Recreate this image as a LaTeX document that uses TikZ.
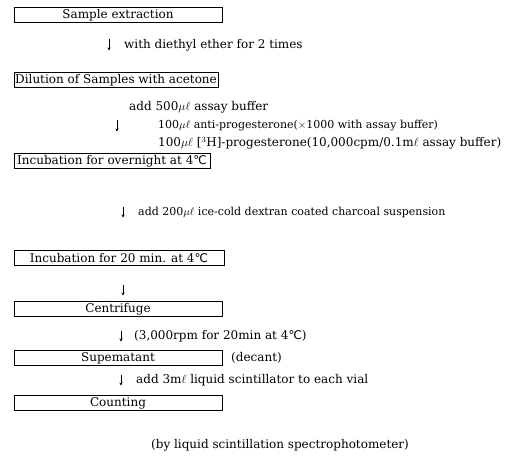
\documentclass[tikz,border=0pt]{standalone}
\usepackage{fontspec}
\setmainfont{DejaVu Serif}
\newfontfamily\symb{DejaVu Sans}
\usetikzlibrary{arrows.meta,positioning}
\newcommand{\dgc}{{\symb ℃}}
\newcommand{\ul}{$\mu\ell$}

\begin{document}
\begin{tikzpicture}[x=1pt,y=-1pt,
  every node/.style={font=\fontsize{12}{14}\selectfont,inner sep=1pt},
  stepbox/.style={draw,line width=0.6pt,minimum width=208pt,minimum height=15pt,inner sep=1pt},
  note/.style={anchor=west},
  small note/.style={note,font=\fontsize{11}{13}\selectfont},
  flow/.style={-{Stealth[length=3pt,width=3pt]},line width=0.6pt}]
\useasboundingbox (0,0) rectangle (529,465);
% boxes of the procedure
\node[stepbox] (extract) at (118,15) {Sample extraction};
\node[stepbox,minimum width=204pt] (dilute) at (116,80) {Dilution of Samples with acetone};
\node[stepbox,minimum width=196pt] (incub1) at (112,161) {Incubation for overnight at 4\dgc};
\node[stepbox,minimum width=210pt] (incub2) at (119,258) {Incubation for 20 min. at 4\dgc};
\node[stepbox] (centri) at (118,309) {Centrifuge};
\node[stepbox] (super) at (118,358) {Supematant};
\node[stepbox] (count) at (118,403) {Counting};
% notes beside the arrows
\node[note] (ether) at (123,45) {with diethyl ether for 2 times};
\node[note] (buffer) at (128,107) {add 500\ul{} assay buffer};
\node[small note] (anti) at (157,126) {100\ul{} anti-progesterone($\times$1000 with assay buffer)};
\node[note] (tracer) at (157,143) {100\ul{} [$^3$H]-progesterone(10,000cpm/0.1m$\ell$ assay buffer)};
\node[small note] (dcc) at (137,212) {add 200\ul{} ice-cold dextran coated charcoal suspension};
\node[note] (rpm) at (133,336) {(3,000rpm for 20min at 4\dgc)};
\node[note] (decant) at (230,358) {(decant)};
\node[note] (scint) at (135,380) {add 3m$\ell$ liquid scintillator to each vial};
\node (spectro) at (280,445) {(by liquid scintillation spectrophotometer)};
% short arrows
\coordinate (a1) at (109,45); \coordinate (a2) at (117,126); \coordinate (a3) at (123,212);
\coordinate (a4) at (123,290); \coordinate (a5) at (121,336); \coordinate (a6) at (121,380);
\foreach \a in {a1,a2,a3,a4,a5,a6}
  \draw[flow] ([yshift=5.5pt]\a)--([yshift=-5.5pt]\a);
\end{tikzpicture}
\end{document}
